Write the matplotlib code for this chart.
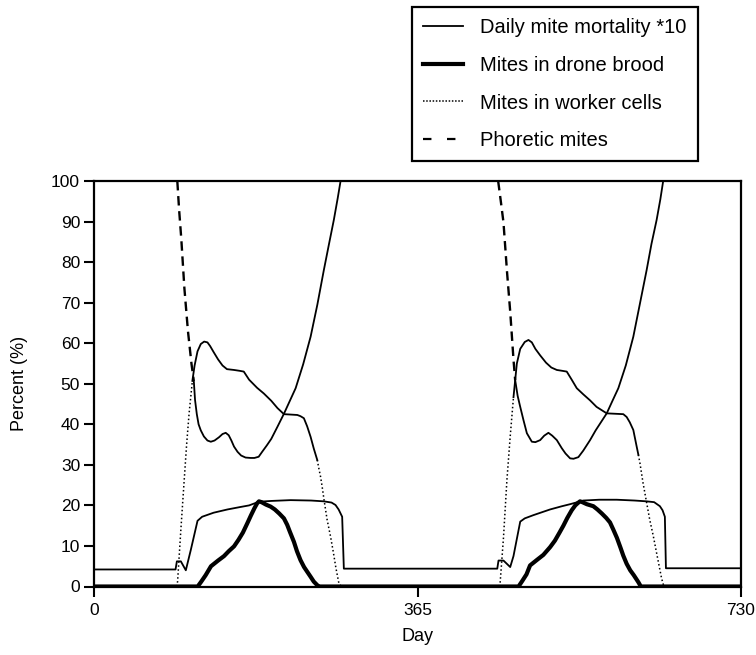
import numpy as np
import matplotlib
matplotlib.use("Agg")
import matplotlib.pyplot as plt
from matplotlib.lines import Line2D

plt.rcParams['font.family'] = ['Liberation Sans', 'DejaVu Sans']

# ---------------- data ----------------
mort_day = [0, 92, 93.5, 98, 103.6, 109.2, 116.8, 122, 135, 150.6, 165, 175,
            186, 200, 221.8, 245, 259.3, 268, 272.5, 276, 280, 281.9,
            455, 456.4, 462, 469.6, 473.3, 480.9, 486, 495.8, 514.6, 528,
            537.2, 552.1, 570, 589.8, 610, 623.5, 632, 638.5, 641.5, 644.1,
            645.3, 730]
mort_val = [4.2, 4.2, 6.2, 6.2, 4.0, 9.0, 16.2, 17.2, 18.2, 19.0, 19.6, 20.0,
            20.9, 21.1, 21.3, 21.2, 21.0, 20.7, 20.1, 19.0, 17.2, 4.4,
            4.4, 6.4, 6.4, 4.8, 7.5, 16.0, 16.8, 17.6, 19.0, 19.8,
            20.3, 21.2, 21.4, 21.4, 21.2, 21.0, 20.8, 19.8, 18.8, 17.2,
            4.5, 4.5]

drone_day = [0, 117, 121, 126, 132, 140, 146.7, 152, 158, 163, 168, 173, 177,
             181, 184, 186.1, 189, 194, 199.3, 204, 209, 214.3, 218, 221,
             225.6, 229, 233, 237, 241, 244.4, 248, 252, 254,
             479, 483, 488, 492, 500, 507, 514.6, 520, 525, 529.6, 534, 539,
             543, 546, 548.4, 551, 556, 563.4, 568, 573, 578, 582.2, 586, 590,
             594, 597.2, 601, 605, 609, 614.1, 617, 730]
drone_val = [0, 0, 1.2, 2.8, 5.0, 6.4, 7.5, 8.7, 9.9, 11.5, 13.3, 15.6, 17.5,
             19.3, 20.5, 21.0, 20.8, 20.2, 19.7, 19.0, 18.0, 16.8, 15.2, 13.5,
             11.0, 8.7, 6.5, 4.8, 3.5, 2.4, 1.2, 0.3, 0,
             0, 1.3, 3.0, 5.2, 6.6, 7.8, 9.7, 11.3, 13.2, 15.0, 16.9, 18.8,
             20.0, 20.6, 21.0, 20.8, 20.3, 19.8, 19.0, 18.0, 16.9, 15.8, 14.0,
             12.0, 9.6, 7.6, 5.6, 4.0, 2.8, 1.1, 0, 0]

worker_day = [0, 93, 94.3, 98, 101.7, 104.5, 107.3, 111, 113.5, 116.8, 120.5,
              124.3, 128, 131, 135, 140, 145, 150, 158, 164, 169, 175, 184,
              191.6, 200, 207, 214.3, 222, 229.4, 233, 236.8, 240.5, 244.4,
              248, 251.9, 253.8, 255.6, 257.5, 259.6, 263, 266.9, 270, 273,
              276.2, 279,
              457, 458.3, 462, 465.9, 469.6, 473.3, 477.1, 480.9, 486, 490.2,
              494, 498, 503.4, 510, 516, 522.2, 528, 533.4, 539, 544.7, 552,
              559.7, 567, 578.5, 588, 597.2, 601, 604.5, 608.5, 612.3, 614.2,
              616, 619.5, 623.5, 627, 631, 635, 640.4, 643, 730]
worker_val = [0, 0, 1.2, 14, 26, 35, 42.7, 50.7, 54.5, 58.0, 59.8,
              60.4, 60.2, 59.3, 57.8, 56.0, 54.5, 53.6, 53.4, 53.2, 53.0, 51.0,
              49.0, 47.6, 45.8, 44.0, 42.5, 42.4, 42.3, 42.0, 41.5, 39.5, 36.9,
              34.0, 31.2, 29.0, 27.1, 24.5, 21.3, 16.5, 12.3, 8.5, 4.5,
              0.9, 0,
              0, 1.1, 12, 26.3, 37, 46.7, 55, 58.6, 60.3, 60.8,
              60.2, 58.6, 57.0, 55.2, 54.0, 53.4, 53.2, 53.0, 51.0, 48.9, 47.4,
              45.9, 44.3, 42.7, 42.6, 42.5, 41.8, 40.5, 38.6, 34.5, 32.5,
              30.4, 25.5, 20.7, 16.5, 12.5, 8.0, 2.0, 0, 0]

phor_day = [0, 94, 96, 98.5, 102, 106, 110, 112.6, 114, 116, 118, 120.5, 124,
            128, 131.8, 136, 141, 145, 148.6, 152, 155, 158, 162, 166, 171,
            176.8, 181, 185.8, 190, 195, 200, 207, 214.3, 221, 227.5, 236,
            244.4, 252, 259.3, 265, 270.6, 275, 278.2,
            456, 459, 462, 466, 469.6, 473.3, 475.2, 478, 480.9, 484.6, 488.4,
            494, 498, 503.4, 508, 512.7, 517, 522.2, 527.8, 532, 537.2, 541,
            546.5, 552, 559.7, 566, 578.5, 585, 591.6, 600, 608.5, 616, 623.5,
            629, 634.8, 639, 642.2, 730]
phor_val = [100, 100, 93, 85.7, 73.5, 63, 54.9, 50.7, 46.0, 42.5, 40.0, 38.5,
            37.0, 36.0, 35.7, 36.0, 36.8, 37.6, 37.9, 37.3, 36.0, 34.5, 33.2,
            32.3, 31.8, 31.7, 31.7, 32.0, 33.3, 34.8, 36.4, 39.4, 42.6, 45.8,
            48.9, 54.8, 61.6, 69.5, 78.0, 84.3, 90.4, 95.8, 100,
            100, 95, 89.8, 77.6, 67.8, 56.0, 50.9, 47.0, 44.3, 41.0, 37.8,
            35.7, 35.6, 36.1, 37.2, 37.9, 37.2, 36.1, 34.1, 32.8, 31.6, 31.5,
            31.9, 33.5, 36.1, 38.5, 42.7, 45.8, 48.9, 54.5, 61.6, 69.8, 78.0,
            84.5, 90.4, 95.5, 100, 100]

labels = ["Daily mite mortality *10", "Mites in drone brood",
          "Mites in worker cells", "Phoretic mites"]
x_ticks = [0, 365, 730]
y_ticks = list(range(0, 101, 10))

# ---------------- styling ----------------
# day ranges where the broken line pattern is visible (steep stretches)
worker_broken = [(93, 111), (250, 279), (457, 473.3), (614, 643)]
phor_broken = [(94, 112.6), (456, 475.2)]

fig = plt.figure(figsize=(7.56, 6.55), dpi=100)
ax = fig.add_axes([94 / 756, 1 - 586.5 / 655, (741 - 94) / 756,
                   (586.5 - 181) / 655])


def plot_segmented(ax, xs, ys, ranges, broken_style, color, lw_broken, lw_solid):
    xs = np.asarray(xs, float)
    ys = np.asarray(ys, float)
    seg_broken = []
    for k in range(len(xs) - 1):
        b = any(a <= xs[k] <= e and a <= xs[k + 1] <= e for a, e in ranges)
        seg_broken.append(b)
    start = 0
    for k in range(1, len(seg_broken) + 1):
        if k == len(seg_broken) or seg_broken[k] != seg_broken[start]:
            sl = slice(start, k + 1)
            if seg_broken[start]:
                ax.plot(xs[sl], ys[sl], color=color, lw=lw_broken,
                        linestyle=broken_style, dash_capstyle='butt')
            else:
                ax.plot(xs[sl], ys[sl], color=color, lw=lw_solid,
                        linestyle='-', solid_joinstyle='round')
            start = k


worker_style = (0, (1.0, 1.6))
phor_style = (0, (4.0, 2.4))

plot_segmented(ax, worker_day, worker_val, worker_broken, worker_style,
               'black', 1.1, 1.3)
plot_segmented(ax, phor_day, phor_val, phor_broken, phor_style,
               'black', 1.7, 1.3)
ax.plot(drone_day, drone_val, color='black', lw=3.0, solid_joinstyle='round')
ax.plot(mort_day, mort_val, color='black', lw=1.3, solid_joinstyle='round')

ax.set_xlim(0, 730)
ax.set_ylim(0, 100)
ax.set_xticks(x_ticks)
ax.set_xticklabels([str(t) for t in x_ticks])
ax.set_yticks(y_ticks)
ax.set_yticklabels([str(t) for t in y_ticks])
ax.tick_params(axis='both', direction='out', length=7, width=1.5,
               labelsize=12.5)
ax.tick_params(axis='x', pad=5)
ax.tick_params(axis='y', pad=3)
for s in ax.spines.values():
    s.set_linewidth(1.6)
ax.set_xlabel("Day", fontsize=13, labelpad=7)
ax.set_ylabel("Percent (%)", fontsize=13, labelpad=17)

# legend
handles = [Line2D([], [], color='black', lw=1.3),
           Line2D([], [], color='black', lw=3.0),
           Line2D([], [], color='black', lw=1.1, linestyle=(0, (1.0, 1.1))),
           Line2D([], [], color='black', lw=1.6, linestyle=(0, (3.8, 7.0)))]
leg = fig.legend(handles, labels, loc='upper left',
                 bbox_to_anchor=(412 / 756, 1 - 7 / 655),
                 fontsize=14.5, frameon=True, fancybox=False, framealpha=1,
                 edgecolor='black', handlelength=2.0, handletextpad=0.85,
                 labelspacing=0.93, borderpad=0.55, borderaxespad=0)
leg.get_frame().set_linewidth(1.6)

fig.savefig("out.png", dpi=100)
